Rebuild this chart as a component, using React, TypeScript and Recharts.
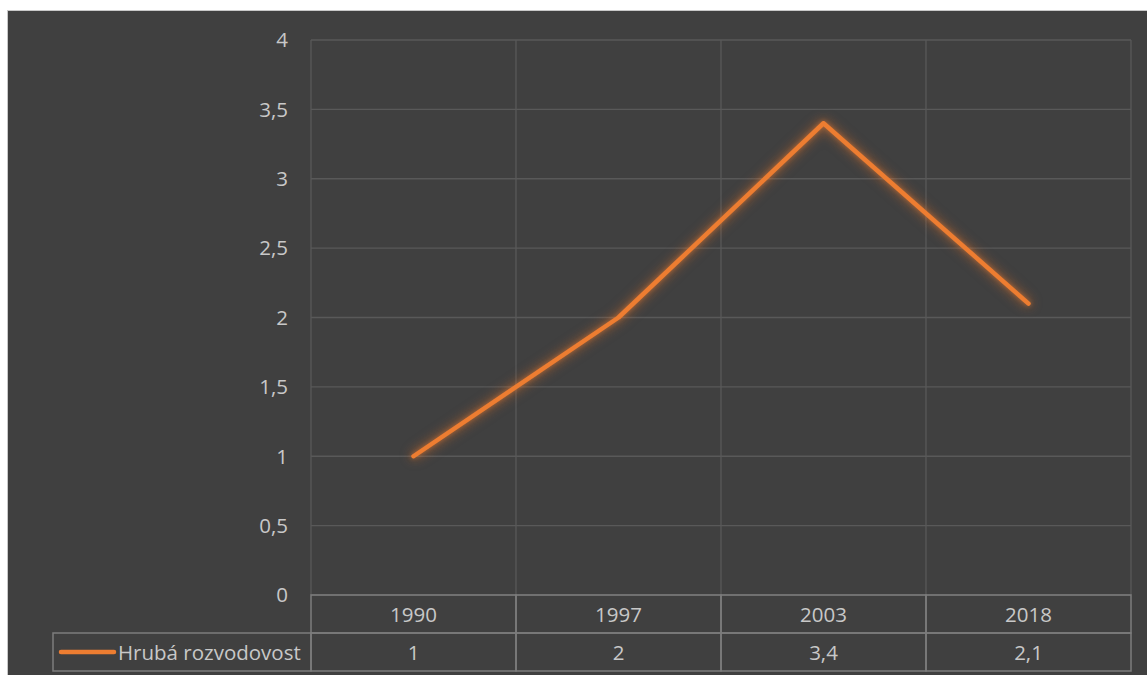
import React from 'react';
import { ComposedChart, Line, XAxis, YAxis, CartesianGrid } from 'recharts';

const years = ['1990', '1997', '2003', '2018'];
const divorceRate = [1, 2, 3.4, 2.1];
const yTicks = [0, 0.5, 1, 1.5, 2, 2.5, 3, 3.5, 4];
const seriesName = 'Hrubá rozvodovost';

const data = years.map((year, i) => ({ year, rate: divorceRate[i] }));

const BG = '#404040';
const TEXT = '#c8c8c8';
const GRID = '#595959';
const TABLE = '#7c7c7c';
const ORANGE = '#ED7D31';
const FONT = '"Open Sans", sans-serif';
const FS = 20.5;

const fmt = (v: number) => String(v).replace('.', ',');

// vertical grid lines sit on the category boundaries, not on the centres
const boundaryLines = ({ offset }: any) =>
  Array.from({ length: years.length + 1 }, (_, i) => offset.left + (offset.width * i) / years.length);

const TableTick = (props: any) => {
  const { x, y, payload, index, width, visibleTicksCount } = props;
  const band = width / visibleTicksCount;
  const left = x - band / 2;
  const row = 38;
  return (
    <g>
      <rect x={left} y={y} width={band} height={row} fill="none" stroke={TABLE} strokeWidth={1.5} />
      <rect x={left} y={y + row} width={band} height={row} fill="none" stroke={TABLE} strokeWidth={1.5} />
      <text x={x} y={y + row / 2} textAnchor="middle" dominantBaseline="central" fill={TEXT} fontSize={FS} fontFamily={FONT}>
        {payload.value}
      </text>
      <text x={x} y={y + row * 1.5} textAnchor="middle" dominantBaseline="central" fill={TEXT} fontSize={FS} fontFamily={FONT}>
        {fmt(divorceRate[index])}
      </text>
      {index === 0 && (
        <g>
          <rect x={45} y={y + row} width={left - 45} height={row} fill="none" stroke={TABLE} strokeWidth={1.5} />
          <line x1={53} x2={106} y1={y + row * 1.5} y2={y + row * 1.5} stroke={ORANGE} strokeWidth={4.5} strokeLinecap="round" />
          <text x={110} y={y + row * 1.5} dominantBaseline="central" fill={TEXT} fontSize={FS} fontFamily={FONT}>
            {seriesName}
          </text>
        </g>
      )}
    </g>
  );
};

export default function App() {
  return (
    <div
      style={{
        position: 'absolute',
        left: 7,
        top: 10,
        width: 1140,
        height: 665,
        background: BG,
        borderLeft: '1px solid #c8c8c8',
        borderTop: '1px solid #c8c8c8',
        overflow: 'hidden',
      }}
    >
      <style>{`.glow path.recharts-curve { filter: drop-shadow(0 0 2px rgba(237,125,49,0.5)) drop-shadow(0 0 6px rgba(237,125,49,0.45)) drop-shadow(0 0 5px rgba(200,100,40,0.3)); }`}</style>
      <ComposedChart width={1140} height={665} data={data} margin={{ top: 29, right: 17, left: 0, bottom: 0 }}>
        <CartesianGrid stroke={GRID} strokeWidth={1.3} verticalCoordinatesGenerator={boundaryLines} />
        <XAxis
          dataKey="year"
          padding={{ left: 102.5, right: 102.5 }}
          height={81}
          axisLine={false}
          tickSize={0}
          tickMargin={0}
          interval={0}
          tick={<TableTick />}
        />
        <YAxis
          domain={[0, 4]}
          ticks={yTicks}
          width={303}
          axisLine={false}
          tickSize={0}
          tickMargin={23}
          tickFormatter={fmt}
          tick={{ fill: TEXT, fontSize: FS, fontFamily: FONT }}
        />
        <Line
          className="glow"
          dataKey="rate"
          name={seriesName}
          stroke={ORANGE}
          strokeWidth={4.5}
          strokeLinecap="round"
          strokeLinejoin="round"
          dot={false}
          activeDot={false}
          isAnimationActive={false}
        />
      </ComposedChart>
    </div>
  );
}
